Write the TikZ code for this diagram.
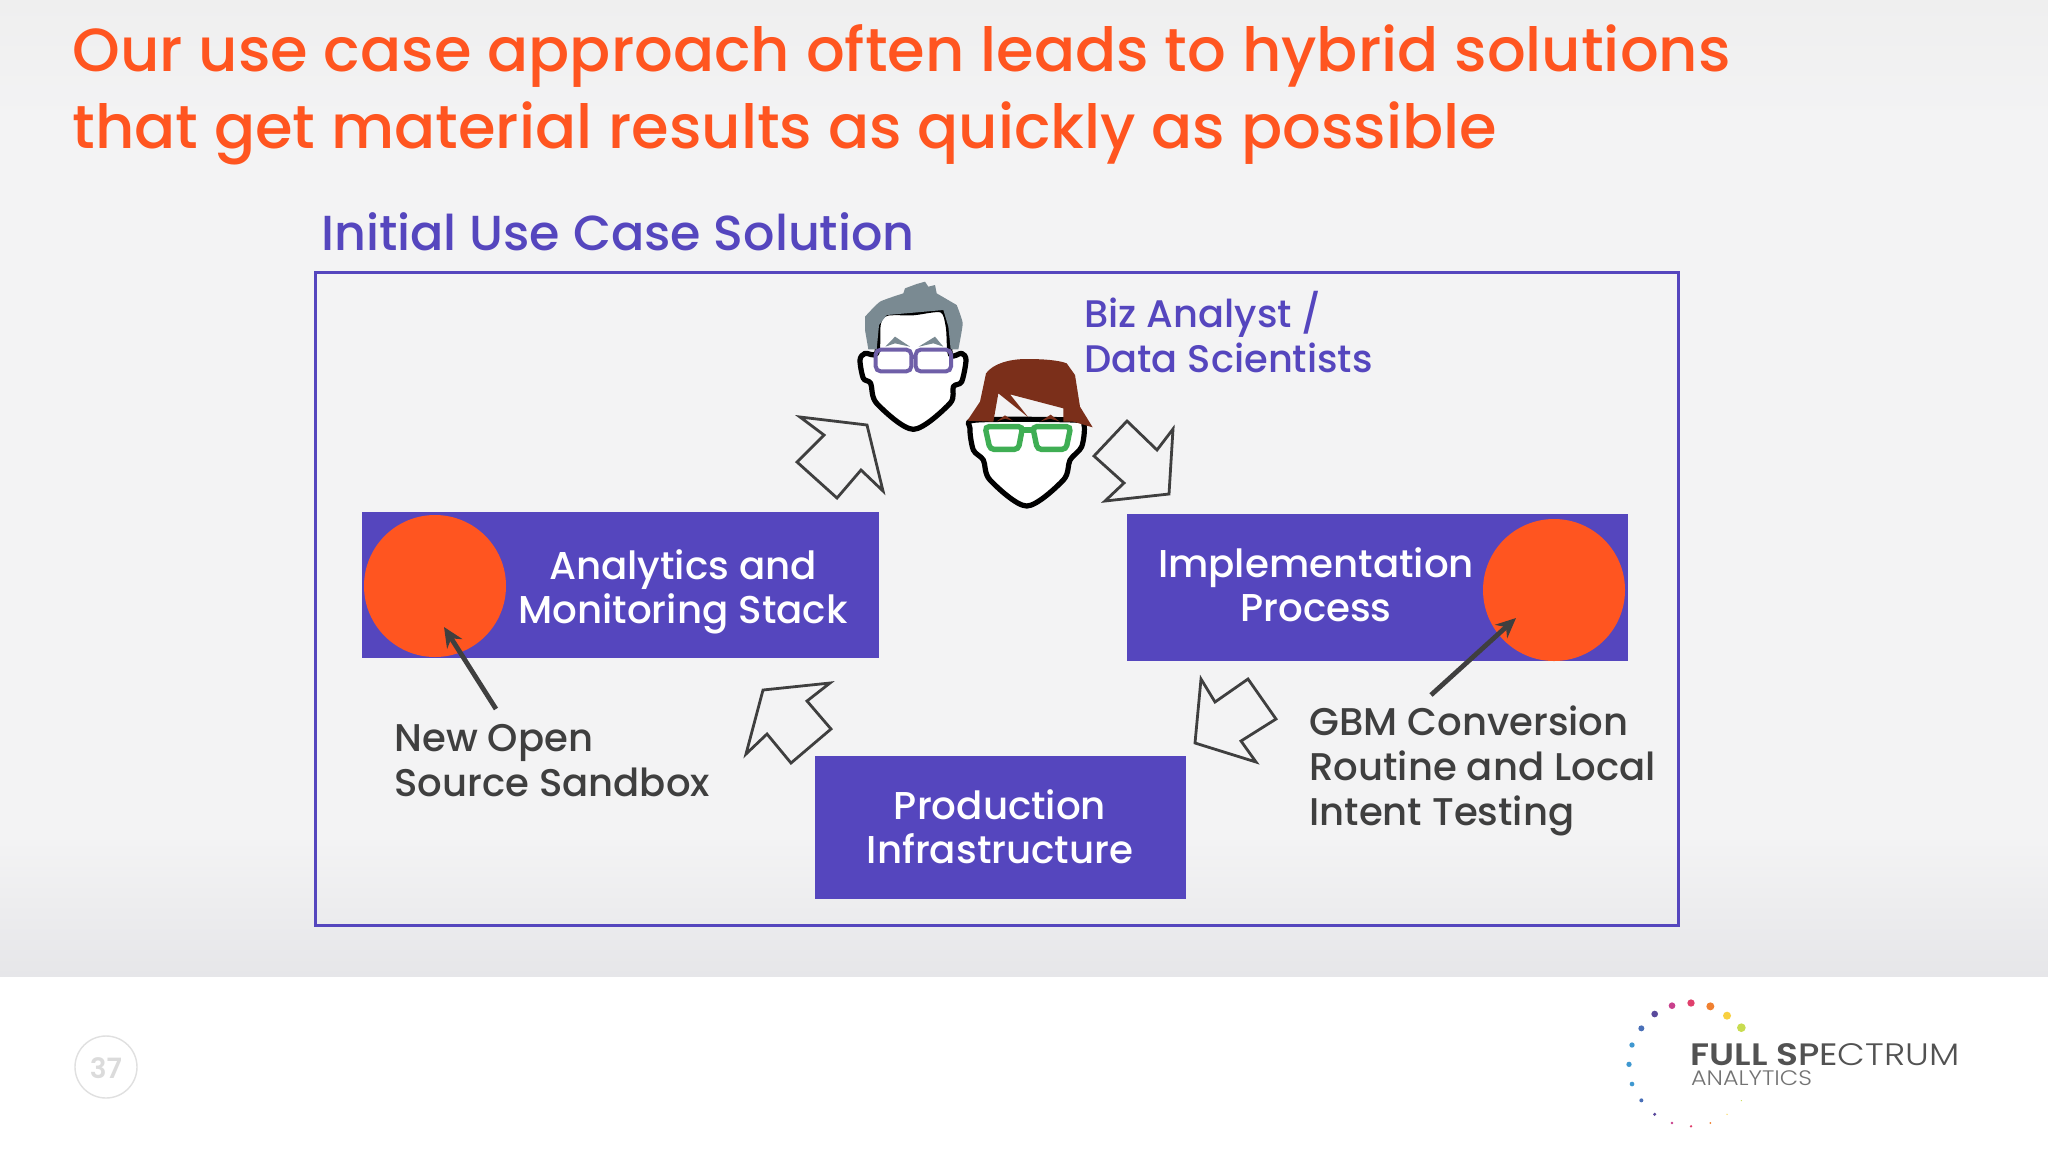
\documentclass[tikz,border=0pt]{standalone}
\usepackage{graphicx}
\usepackage{fontspec}
\setmainfont{Poppins}
\newfontfamily\pmed{Poppins Medium}
\newfontfamily\psemi{Poppins SemiBold}
\newfontfamily\plight{Poppins Light}
\usetikzlibrary{arrows.meta}
\definecolor{orng}{HTML}{FF5520}
\definecolor{purp}{HTML}{5546BE}
\definecolor{dgray}{HTML}{3F3F3F}
\definecolor{hairg}{HTML}{7A8A92}
\definecolor{hairb}{HTML}{7B2F1A}
\definecolor{glp}{HTML}{6F5FA8}
\definecolor{glg}{HTML}{3FAE54}
\definecolor{bgc}{HTML}{F3F3F4}
\definecolor{bgtop}{HTML}{EFEFEF}
\definecolor{bgbot}{HTML}{E6E6E9}
\tikzset{
 titletext/.style={anchor=base west,inner sep=0,text=orng,font=\pmed\fontsize{30.4}{30}\selectfont},
 headtext/.style={anchor=base west,inner sep=0,text=purp,font=\pmed\fontsize{24.6}{26}\selectfont},
 bluetext/.style={anchor=west,inner sep=0,align=left,text=purp,font=\pmed\fontsize{19.2}{22.5}\selectfont},
 darktext/.style={anchor=west,inner sep=0,align=left,text=dgray,font=\pmed\fontsize{19.3}{22.5}\selectfont},
 boxtext/.style={inner sep=0,align=center,text=white,font=\pmed\fontsize{19.4}{22}\selectfont},
 dot/.style={circle,fill=orng,inner sep=0,minimum size=71pt},
 cyclearrow/.style={draw=dgray,line width=1.4pt,fill=none,miter limit=10},
 callout/.style={draw=dgray,line width=2.4pt,-{Stealth[length=10pt,width=9pt]}},
 face/.style={fill=white,draw=black,line width=2.6pt,line join=round},
}
\begin{document}
\begin{tikzpicture}[x=0.5pt,y=-0.5pt]
\useasboundingbox (0,0) rectangle (2048,1152);
\fill[white] (0,0) rectangle (2048,1152);
\shade[top color=bgtop,bottom color=bgc] (0,0) rectangle (2048,120);
\fill[bgc] (0,120) rectangle (2048,840);
\shade[top color=bgc,bottom color=bgbot] (0,840) rectangle (2048,976);
\node[titletext] (t1) at (72,71) {Our use case approach often leads to hybrid solutions};
\node[titletext] (t2) at (72,148) {that get material results as quickly as possible};
\node[headtext] (h) at (321,250) {Initial Use Case Solution};
\draw[purp,line width=1.5pt] (315,272) rectangle (1678,925);
\node[bluetext] (biz) at (1084,332) {Biz Analyst /\\Data Scientists};
% boxes
\fill[purp] (362,512) rectangle (879,658);
\fill[purp] (1127,514) rectangle (1628,661);
\fill[purp] (815,756) rectangle (1186,899);
\node[dot] (c1) at (435,586) {};
\node[dot] (c2) at (1554,590) {};
\node[boxtext] (b1) at (683,592) {Analytics and\\Monitoring Stack};
\node[boxtext] (b2) at (1316,585) {Implementation\\Process};
\node[boxtext] (b3) at (1000,827) {Production\\Infrastructure};
\node[darktext] (l1) at (394,761) {New Open\\Source Sandbox};
\node[darktext] (l2) at (1309,771) {GBM Conversion\\Routine and Local\\Intent Testing};
\coordinate (a1s) at (496,709); \coordinate (a1e) at (444,627);
\coordinate (a2s) at (1431,695); \coordinate (a2e) at (1516,618);
\draw[callout] (a1s) -- (a1e);
\draw[callout] (a2s) -- (a2e);
% cycle arrows
\draw[cyclearrow] (800,417)--(867,425)--(883,491)--(861,470)--(837,498)--(797,462)--(824,435)--cycle;
\draw[cyclearrow] (1173,429)--(1169,494)--(1105,501)--(1124,483)--(1094,456)--(1127,421)--(1157,450)--cycle;
\draw[cyclearrow] (830,683)--(763,690)--(746,754)--(767,734)--(791,763)--(831,729)--(807,701)--cycle;
\draw[cyclearrow] (1201,679)--(1195,743)--(1256,762)--(1241,741)--(1276,719)--(1248,679)--(1215,702)--cycle;
% heads
\begin{scope}[shift={(780,260)},x=0.16667pt,y=-0.16667pt]
 % man
 \draw[face] plot[smooth cycle,tension=0.5] coordinates {(290,280)(295,190)(320,160)(400,158)(485,150)(505,200)(512,285)(545,280)(558,300)(545,365)(520,380)(510,430)(400,508)(290,430)(272,370)(250,355)(240,300)(255,280)};
 \fill[hairg] plot[smooth,tension=0.3] coordinates {(255,170)(300,125)(370,100)} --(375,85)--(410,72)--(435,65)--(445,80)--(465,75)--(470,100)-- plot[smooth,tension=0.3] coordinates {(530,135)(548,190)(535,268)} --(512,268)--(505,200)--(490,150)--(400,158)--(320,165)--(297,195)--(290,268)--(265,268)--(255,210)--cycle;
 \fill[hairg] (316,260)--(345,230)--(390,260)--(345,250)--cycle;
 \fill[hairg] (416,260)--(465,230)--(490,260)--(460,250)--cycle;
 \draw[glp,line width=2pt,rounded corners=2.5pt] (287,269) rectangle (394,334);
 \draw[glp,line width=2pt,rounded corners=2.5pt] (407,269) rectangle (513,334);
 \draw[glp,line width=2pt] (392,290)--(410,290);
 % woman
 \draw[face] plot[smooth cycle,tension=0.5] coordinates {(590,480)(880,480)(912,495)(905,560)(870,600)(850,660)(740,738)(630,660)(610,600)(580,570)(570,505)};
 \fill[hairb] (562,482)--(600,425)--(618,340) .. controls (640,310) and (690,297) .. (740,297) .. controls (800,297) and (840,302) .. (860,310)--(885,345)--(900,440)--(938,502)--(880,485)--(850,485)--(850,445)--(690,403)--(745,472)--(655,400)--(640,485)--cycle;
 \fill[hairb] (650,484)--(675,466)--(698,482)--(675,476)--cycle;
 \fill[hairb] (782,484)--(812,464)--(838,484)--(810,476)--cycle;
 \draw[glg,line width=2.7pt,rounded corners=2pt] (615,500)--(728,500)--(715,568)--(630,568)--cycle;
 \draw[glg,line width=2.7pt,rounded corners=2pt] (758,500)--(872,500)--(858,568)--(772,568)--cycle;
 \draw[glg,line width=2.7pt] (728,510)--(758,510);
\end{scope}
% page number
\draw[black!12,line width=0.7pt] (106,1067) circle[radius=31];
\node[inner sep=0,text=black!14,font=\psemi\fontsize{14}{14}\selectfont] (pg) at (106,1068) {37};
% logo
\begin{scope}[shift={(1600,980)},x=0.16667pt,y=-0.16667pt]
 \foreach \px/\py/\r/\c in {424/143/13/C8DC50,381/107/12/F8D040,331/79/12/F08030,273/69/11/E0406C,216/77/10/C8408C,164/102/10/5A4A9C,124/145/9/4A70B8,96/195/8/3F98D0,87/253/8/3F98D0,96/312/7/3F98D0,124/361/6/4A70B8,164/403/5/5A4A9C,216/429/4/C8408C,273/439/4/E0406C,331/429/3/F08030,381/403/2/F8D040,424/362/2/C8DC50}{
  \definecolor{tmpc}{HTML}{\c}
  \fill[tmpc] (\px,\py) circle[radius=\r];
 }
 \node[anchor=base west,inner sep=0,text=black!68,font=\fontsize{15.5}{16}\selectfont] (lg1) at (270,255) {\scalebox{1.16}[1]{{\psemi FULL S}{\pmed P}{\rmfamily E}{\plight CTRUM}}};
 \node[anchor=base west,inner sep=0,text=black!55,font=\plight\fontsize{10.5}{11}\selectfont] (lg2) at (272,316) {\scalebox{1.136}[1]{ANALYTICS}};
\end{scope}
\end{tikzpicture}
\end{document}
